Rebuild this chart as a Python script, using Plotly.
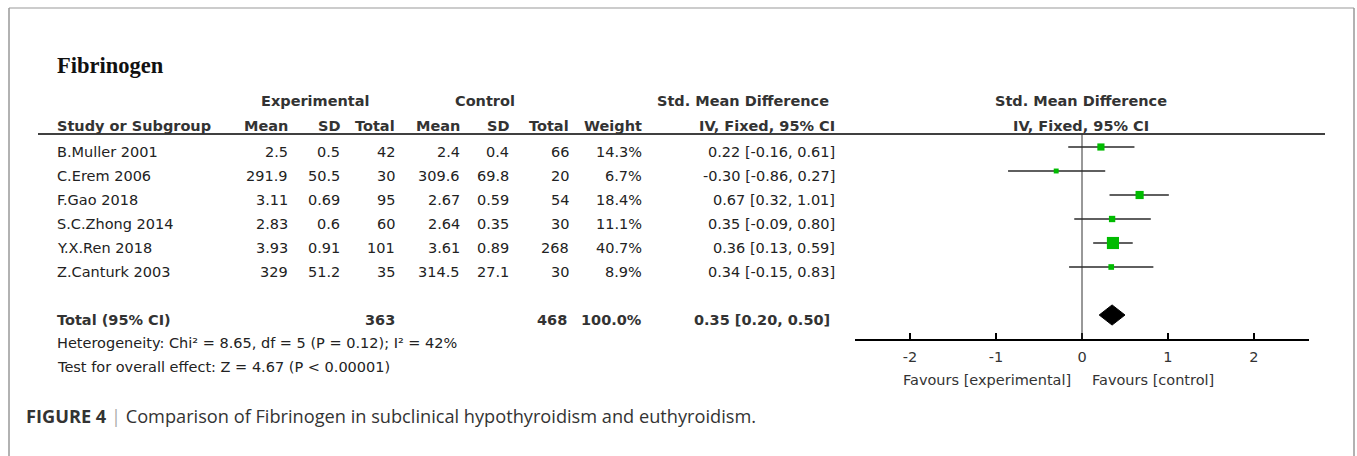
import numpy as np
import plotly.graph_objects as go

W, H = 1357, 456

# ---- study data -------------------------------------------------------------
studies = ["B.Muller 2001", "C.Erem 2006", "F.Gao 2018",
           "S.C.Zhong 2014", "Y.X.Ren 2018", "Z.Canturk 2003"]
exp_mean = [2.5, 291.9, 3.11, 2.83, 3.93, 329]
exp_sd = [0.5, 50.5, 0.69, 0.6, 0.91, 51.2]
exp_n = [42, 30, 95, 60, 101, 35]
ctl_mean = [2.4, 309.6, 2.67, 2.64, 3.61, 314.5]
ctl_sd = [0.4, 69.8, 0.59, 0.35, 0.89, 27.1]
ctl_n = [66, 20, 54, 30, 268, 30]
weight = [14.3, 6.7, 18.4, 11.1, 40.7, 8.9]
smd = [0.22, -0.30, 0.67, 0.35, 0.36, 0.34]
ci_low = [-0.16, -0.86, 0.32, -0.09, 0.13, -0.15]
ci_high = [0.61, 0.27, 1.01, 0.80, 0.59, 0.83]

# pooled estimate
total_exp_n = 363
total_ctl_n = 468
total_weight = 100.0
pooled_smd = 0.35
pooled_low = 0.20
pooled_high = 0.50

heterogeneity = "Heterogeneity: Chi\u00b2 = 8.65, df = 5 (P = 0.12); I\u00b2 = 42%"
overall_test = "Test for overall effect: Z = 4.67 (P < 0.00001)"

tick_values = [-2, -1, 0, 1, 2]
tick_labels = ["-2", "-1", "0", "1", "2"]

# ---- layout helpers (pixel -> paper) ---------------------------------------
def px(x):
    return x / W


def py(y):
    return 1 - y / H


TXT = "DejaVu Sans"
FS = 14.5
annotations = []


def text(x, y, s, anchor="right", size=FS, color="#222", bold=False, family=TXT):
    if bold:
        s = f"<b>{s}</b>"
    annotations.append(dict(
        x=px(x), y=py(y), xref="paper", yref="paper", text=s, showarrow=False,
        xanchor=anchor, yanchor="middle",
        font=dict(family=family, size=size, color=color)))


def fmt(v):
    return f"{v:g}"


# title
text(55, 65, "Fibrinogen", anchor="left", size=22.5, color="#111", bold=True,
     family="Liberation Serif")

# column headers
HC = "#333"
text(315, 101, "Experimental", anchor="center", color=HC, bold=True)
text(485, 101, "Control", anchor="center", color=HC, bold=True)
text(831, 101, "Std. Mean Difference", anchor="right", color=HC, bold=True)
text(1081, 101, "Std. Mean Difference", anchor="center", color=HC, bold=True)

text(55, 126, "Study or Subgroup", anchor="left", color=HC, bold=True)
cols_right = [290, 342, 397, 462, 511, 571, 644, 837]
for xr, lab in zip(cols_right, ["Mean", "SD", "Total", "Mean", "SD", "Total",
                                "Weight", "IV, Fixed, 95% CI"]):
    text(xr, 126, lab, color=HC, bold=True)
text(1081, 126, "IV, Fixed, 95% CI", anchor="center", color=HC, bold=True)

# study rows
ROW0, ROWH = 152, 24
for i, name in enumerate(studies):
    y = ROW0 + ROWH * i
    text(55, y, name, anchor="left")
    vals = [fmt(exp_mean[i]), fmt(exp_sd[i]), str(exp_n[i]),
            fmt(ctl_mean[i]), fmt(ctl_sd[i]), str(ctl_n[i]),
            f"{weight[i]:.1f}%",
            f"{smd[i]:.2f} [{ci_low[i]:.2f}, {ci_high[i]:.2f}]"]
    for xr, v in zip(cols_right, vals):
        text(xr, y, v)

# pooled row
yt = ROW0 + ROWH * 7
text(55, yt, "Total (95% CI)", anchor="left", color=HC, bold=True)
text(397, yt, str(total_exp_n), color=HC, bold=True)
text(569, yt, str(total_ctl_n), color=HC, bold=True)
text(644, yt, f"{total_weight:.1f}%", color=HC, bold=True)
text(832, yt, f"{pooled_smd:.2f} [{pooled_low:.2f}, {pooled_high:.2f}]",
     color=HC, bold=True)
text(55, 343, heterogeneity, anchor="left")
text(55, 367, overall_test, anchor="left")

# favours labels
text(1073, 380, "Favours [experimental]", anchor="right", color="#333")
text(1090, 380, "Favours [control]", anchor="left", color="#333")

# caption
annotations.append(dict(
    x=px(24), y=py(416), xref="paper", yref="paper", showarrow=False,
    xanchor="left", yanchor="middle",
    text="<b>FIGURE 4</b> <span style='color:#aaa'>|</span> Comparison of "
         "Fibrinogen in subclinical hypothyroidism and euthyroidism.",
    font=dict(family="Open Sans", size=18.2, color="#333")))

# ---- forest plot -----------------------------------------------------------
rows = np.arange(len(studies))
smd_a = np.array(smd)
err_plus = np.array(ci_high) - smd_a
err_minus = smd_a - np.array(ci_low)
sizes = 1.9 * np.sqrt(np.array(weight))

fig = go.Figure()
fig.add_trace(go.Scatter(
    x=smd, y=rows, mode="markers",
    marker=dict(symbol="square", size=sizes, color="#00bb00", opacity=1,
                line=dict(width=0)),
    error_x=dict(type="data", symmetric=False, array=err_plus,
                 arrayminus=err_minus, width=0, thickness=1.6, color="#2a2a2a"),
    hoverinfo="skip", showlegend=False))

pooled_row = 7
half_h = 0.42
fig.add_trace(go.Scatter(
    x=[pooled_low, pooled_smd, pooled_high, pooled_smd, pooled_low],
    y=[pooled_row, pooled_row - half_h, pooled_row, pooled_row + half_h,
       pooled_row],
    mode="lines", fill="toself", fillcolor="black",
    line=dict(color="black", width=1), hoverinfo="skip", showlegend=False))

# plot area: header rule at y=134 px, axis line at y=339 px
top_px, axis_px, mark0 = 134, 339, 147
fig.update_layout(
    width=W, height=H, margin=dict(l=0, r=0, t=0, b=0),
    paper_bgcolor="white", plot_bgcolor="white",
    annotations=annotations,
    xaxis=dict(domain=[px(855), px(1309)], range=[-2.64, 2.64],
               showgrid=False, zeroline=False, showline=True,
               linecolor="black", linewidth=2, ticks="inside", ticklen=6,
               tickwidth=1.5, tickcolor="black", tickvals=tick_values,
               ticktext=tick_labels, ticklabelstandoff=4,
               tickfont=dict(family=TXT, size=FS, color="#333")),
    yaxis=dict(domain=[py(axis_px), py(top_px)],
               range=[(axis_px - mark0) / ROWH, (top_px - mark0) / ROWH],
               visible=False, showgrid=False, zeroline=False),
    shapes=[
        # frame
        dict(type="line", xref="paper", yref="paper", x0=px(9), x1=px(1354),
             y0=py(8), y1=py(8), line=dict(color="#cccccc", width=2)),
        dict(type="line", xref="paper", yref="paper", x0=px(9), x1=px(9),
             y0=py(8), y1=0, line=dict(color="#999999", width=1.5)),
        dict(type="line", xref="paper", yref="paper", x0=px(1354), x1=px(1354),
             y0=py(8), y1=0, line=dict(color="#999999", width=1.5)),
        # header rule
        dict(type="line", xref="paper", yref="paper", x0=px(38), x1=px(1325),
             y0=py(top_px), y1=py(top_px), line=dict(color="black", width=1.5)),
        # line of no effect
        dict(type="line", xref="x", yref="paper", x0=0, x1=0,
             y0=py(axis_px), y1=py(top_px), line=dict(color="#333", width=1)),
    ],
)

fig.write_html("out.html")
